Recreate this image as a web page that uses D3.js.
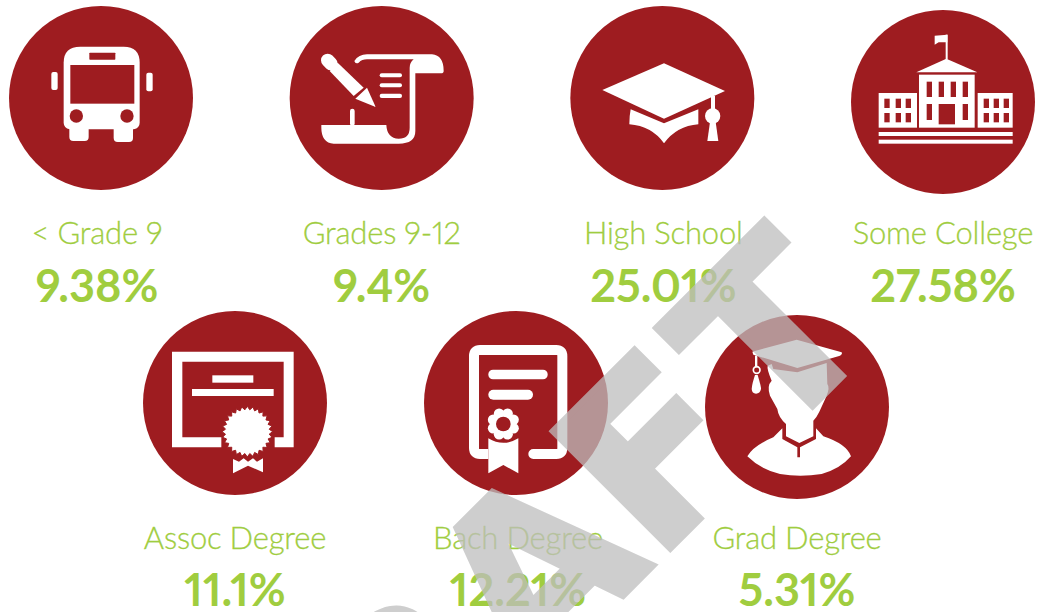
<!DOCTYPE html>
<html>
<head>
<meta charset="utf-8">
<script src="https://cdn.jsdelivr.net/npm/d3@7"></script>
<style>
  html, body { margin: 0; padding: 0; background: #fff; overflow: hidden; }
  svg { display: block; }
  text { font-variant-numeric: proportional-nums; }
</style>
</head>
<body>
<svg id="chart"></svg>
<script>
/* global d3 */
const categories = ["< Grade 9", "Grades 9-12", "High School", "Some College", "Assoc Degree", "Bach Degree", "Grad Degree"];
const shares = [9.38, 9.4, 25.01, 27.58, 11.1, 12.21, 5.31];
const iconNames = ["bus", "scroll", "cap", "school", "certificate", "diploma", "graduate"];
const topRow = categories.slice(0, 4);
const bottomRow = categories.slice(4);

const WIDTH = 1037;
const HEIGHT = 612;
const RED = "#9e1c20";
const GREEN = "#a0cd3f";
const WHITE = "#ffffff";
const RADIUS = 92;

function box(g, x0, y0, x1, y1, fill, r) {
  g.append("rect")
    .attr("x", x0).attr("y", y0)
    .attr("width", x1 - x0).attr("height", y1 - y0)
    .attr("rx", r || 0)
    .style("fill", fill);
}

function dot(g, x, y, r, fill) {
  g.append("circle").attr("cx", x).attr("cy", y).attr("r", r).style("fill", fill);
}

function shape(g, d, fill) {
  g.append("path").attr("d", d).style("fill", fill);
}

const drawIcon = {
  bus(g) {
    box(g, 153, 218, 172, 272, WHITE, 6);
    box(g, 438, 220, 457, 276, WHITE, 6);
    shape(g, "M190 190 Q190 142 240 142 H370 Q418 142 418 190 V370 Q418 385 400 390 H208 Q190 385 190 370Z", WHITE);
    box(g, 207, 370, 265, 425, WHITE, 12);
    box(g, 340, 370, 398, 428, WHITE, 12);
    box(g, 267, 160, 345, 181, RED, 2);
    box(g, 210, 197, 402, 313, RED);
    dot(g, 228, 350, 20, RED);
    dot(g, 380, 350, 20, RED);
  },
  scroll(g) {
    shape(g, "M1062 185 Q1075 165 1100 165 H1295 Q1330 168 1330 215 Q1330 222 1322 222 H1245 V395 Q1245 433 1195 433 H1000 Q963 430 963 385 V377 H1158 Q1160 417 1195 418 Q1228 418 1228 385 V205 Q1228 190 1240 180 H1100 Q1085 180 1075 190 Q1065 195 1062 185Z", WHITE);
    box(g, 1049, 328, 1063, 380, WHITE, 7);
    box(g, 1138, 222, 1205, 234, WHITE, 6);
    box(g, 1138, 252, 1205, 264, WHITE, 6);
    box(g, 1138, 283, 1205, 296, WHITE, 6);
    shape(g, "M988 215 L1012 190 L1090 265 L1060 290Z", WHITE);
    shape(g, "M1065 298 L1100 265 L1126 323Z", WHITE);
    g.append("path")
      .attr("d", "M982 183 L992 193")
      .style("stroke", WHITE)
      .style("stroke-width", 40)
      .style("stroke-linecap", "round");
  },
  cap(g) {
    shape(g, "M372 192 L555 275 L372 358 L187 272Z", WHITE);
    shape(g, "M272 330 L372 372 L475 330 V375 Q410 380 372 432 Q335 380 268 375 Q268 350 272 330Z", WHITE);
    box(g, 513, 290, 525, 340, WHITE);
    dot(g, 518, 350, 23, WHITE);
    shape(g, "M510 368 H527 L535 425 H502Z", WHITE);
  },
  school(g) {
    box(g, 1218, 105, 1224, 180, WHITE);
    shape(g, "M1185 108 L1223 105 V128 H1197 L1185 135Z", WHITE);
    shape(g, "M1220 177 L1313 218 H1130Z", WHITE);
    box(g, 1138, 225, 1305, 384, WHITE);
    box(g, 1017, 280, 1132, 384, WHITE);
    box(g, 1314, 280, 1419, 384, WHITE);
    [1161, 1197, 1233, 1269].forEach((x) => box(g, x, 246, x + 16, 292, RED));
    box(g, 1161, 313, 1177, 361, RED);
    box(g, 1269, 313, 1285, 361, RED);
    box(g, 1197, 313, 1246, 374, RED);
    [1034, 1068, 1098, 1332, 1362, 1392].forEach((x) => {
      box(g, x, 297, x + 16, 325, RED);
      box(g, x, 340, x + 16, 368, RED);
    });
    box(g, 1017, 397, 1419, 409, WHITE);
    box(g, 1017, 420, 1419, 432, WHITE);
  },
  certificate(g) {
    shape(g, "M127 138 H492 V425 H435 V395 H462 V168 H158 V395 H275 V425 H127Z", WHITE);
    box(g, 248, 209, 371, 231, WHITE);
    box(g, 187, 250, 432, 271, WHITE);
    // saw-tooth seal
    const seal = d3.lineRadial().curve(d3.curveLinearClosed);
    g.append("path")
      .attr("transform", "translate(353,378)")
      .attr("d", seal(d3.range(56).map((k) => [k * Math.PI / 28, k % 2 ? 66 : 76])))
      .style("fill", WHITE)
      .style("stroke", RED)
      .style("stroke-width", 3);
    shape(g, "M310 460 L328 468 L342 458 L355 468 L370 458 L382 468 L400 458 V500 L355 480 L310 503Z", WHITE);
  },
  diploma(g) {
    g.append("path")
      .attr("d", "M1090 445 H1050 Q1032 445 1032 427 V151 Q1032 133 1050 133 H1279 Q1297 133 1297 151 V427 Q1297 445 1279 445 H1210")
      .style("fill", "none")
      .style("stroke", WHITE)
      .style("stroke-width", 30)
      .style("stroke-linecap", "round");
    box(g, 1075, 192, 1253, 221, WHITE, 14);
    box(g, 1075, 252, 1209, 282, WHITE, 15);
    shape(g, "M1075 385 H1165 V503 L1120 478 L1075 503Z", RED);
    shape(g, "M1075 398 Q1120 425 1165 398 V503 L1120 478 L1075 503Z", WHITE);
    d3.range(8).forEach((k) => {
      const a = k * Math.PI / 4 + Math.PI / 8;
      dot(g, 1120 + 33 * Math.cos(a), 355 + 33 * Math.sin(a), 16, WHITE);
    });
    dot(g, 1120, 355, 34, WHITE);
    dot(g, 1120, 355, 22, RED);
  },
  graduate(g) {
    shape(g, "M683 180 L695 175 L700 190 L772 200 L860 172 L862 235 Q870 245 860 270 L838 318 Q830 335 820 345 L820 392 L778 412 L738 392 L738 355 Q715 335 712 310 L690 270 Q680 240 695 225 Q680 190 683 180Z", WHITE);
    shape(g, "M622 452 Q640 420 700 395 L727 368 L727 400 L772 425 V455 H780 V425 L828 400 L828 368 L850 392 Q920 415 933 452 Q900 490 845 505 Q780 515 720 505 Q660 490 622 452Z", WHITE);
    shape(g, "M637 138 L770 102 L905 140 Q908 148 895 152 L772 187 L640 147Z", WHITE);
    box(g, 645, 150, 652, 185, WHITE);
    g.append("circle")
      .attr("cx", 650).attr("cy", 193).attr("r", 10)
      .style("fill", "none")
      .style("stroke", WHITE)
      .style("stroke-width", 5);
    shape(g, "M645 208 H653 Q664 245 663 250 Q660 264 648 264 Q636 264 635 250 Q636 235 645 208Z", WHITE);
  }
};

const svg = d3.select("#chart").attr("width", WIDTH).attr("height", HEIGHT);

const xTop = d3.scalePoint().domain(topRow).range([101, 943]);
const xBottom = d3.scalePoint().domain(bottomRow).range([235, 797]);
const xCircle = (d) => (topRow.includes(d) ? xTop(d) : xBottom(d));
const yRow = (d) => (topRow.includes(d) ? 98 : 403);

// labels and circles don't line up exactly in the original
const textDx = { "< Grade 9": -4, "High School": 1, "Bach Degree": 2 };
const circleDy = { "Some College": 4, "Grad Degree": 4 };

// icons are traced at 3 units per pixel, [ox, oy] is the circle centre in those units
const iconOrigin = {
  bus: [302, 296], scroll: [1144, 296], cap: [367, 296], school: [1210, 307],
  certificate: [316, 292], diploma: [1158, 292], graduate: [771, 304]
};

const items = svg.selectAll(".item")
  .data(categories)
  .enter().append("g")
  .attr("class", "item");

items.append("circle")
  .attr("cx", xCircle)
  .attr("cy", (d) => yRow(d) + (circleDy[d] || 0))
  .attr("r", RADIUS)
  .style("fill", RED);

items.append("g")
  .attr("transform", (d, i) => {
    const o = iconOrigin[iconNames[i]];
    return "translate(" + xCircle(d) + "," + (yRow(d) + (circleDy[d] || 0)) + ")" +
      "scale(" + (1 / 3) + ")translate(" + (-o[0]) + "," + (-o[1]) + ")";
  })
  .each(function(d, i) {
    drawIcon[iconNames[i]](d3.select(this));
  });

items.append("text")
  .attr("x", (d) => xCircle(d) + (textDx[d] || 0))
  .attr("y", (d) => yRow(d) + 146)
  .attr("text-anchor", "middle")
  .style("font-family", "Lato")
  .style("font-weight", 300)
  .style("font-size", "31px")
  .style("letter-spacing", "-0.2px")
  .style("stroke", GREEN)
  .style("stroke-width", 0.3)
  .style("fill", GREEN)
  .text((d) => d);

items.append("text")
  .attr("x", (d) => xCircle(d) + (textDx[d] || 0))
  .attr("y", (d, i) => yRow(d) + 204 + (i > 3 ? -1 : 0))
  .attr("text-anchor", "middle")
  .style("font-family", "Lato")
  .style("font-weight", 700)
  .style("font-size", "45px")
  .style("fill", GREEN)
  .text((d, i) => shares[i] + "%");

// watermark goes over everything, letters placed one by one to land on the original
svg.append("text")
  .attr("transform", "translate(271.5,947.5)rotate(-45)")
  .attr("x", "0 189 365 543 709")
  .style("font-family", "DejaVu Sans")
  .style("font-weight", 700)
  .style("font-size", "228px")
  .style("font-kerning", "none")
  .style("fill", "rgb(190,190,190)")
  .style("stroke", "rgb(190,190,190)")
  .style("stroke-width", 6)
  .style("stroke-linejoin", "miter")
  .style("opacity", 0.74)
  .text("DRAFT");
</script>
</body>
</html>
